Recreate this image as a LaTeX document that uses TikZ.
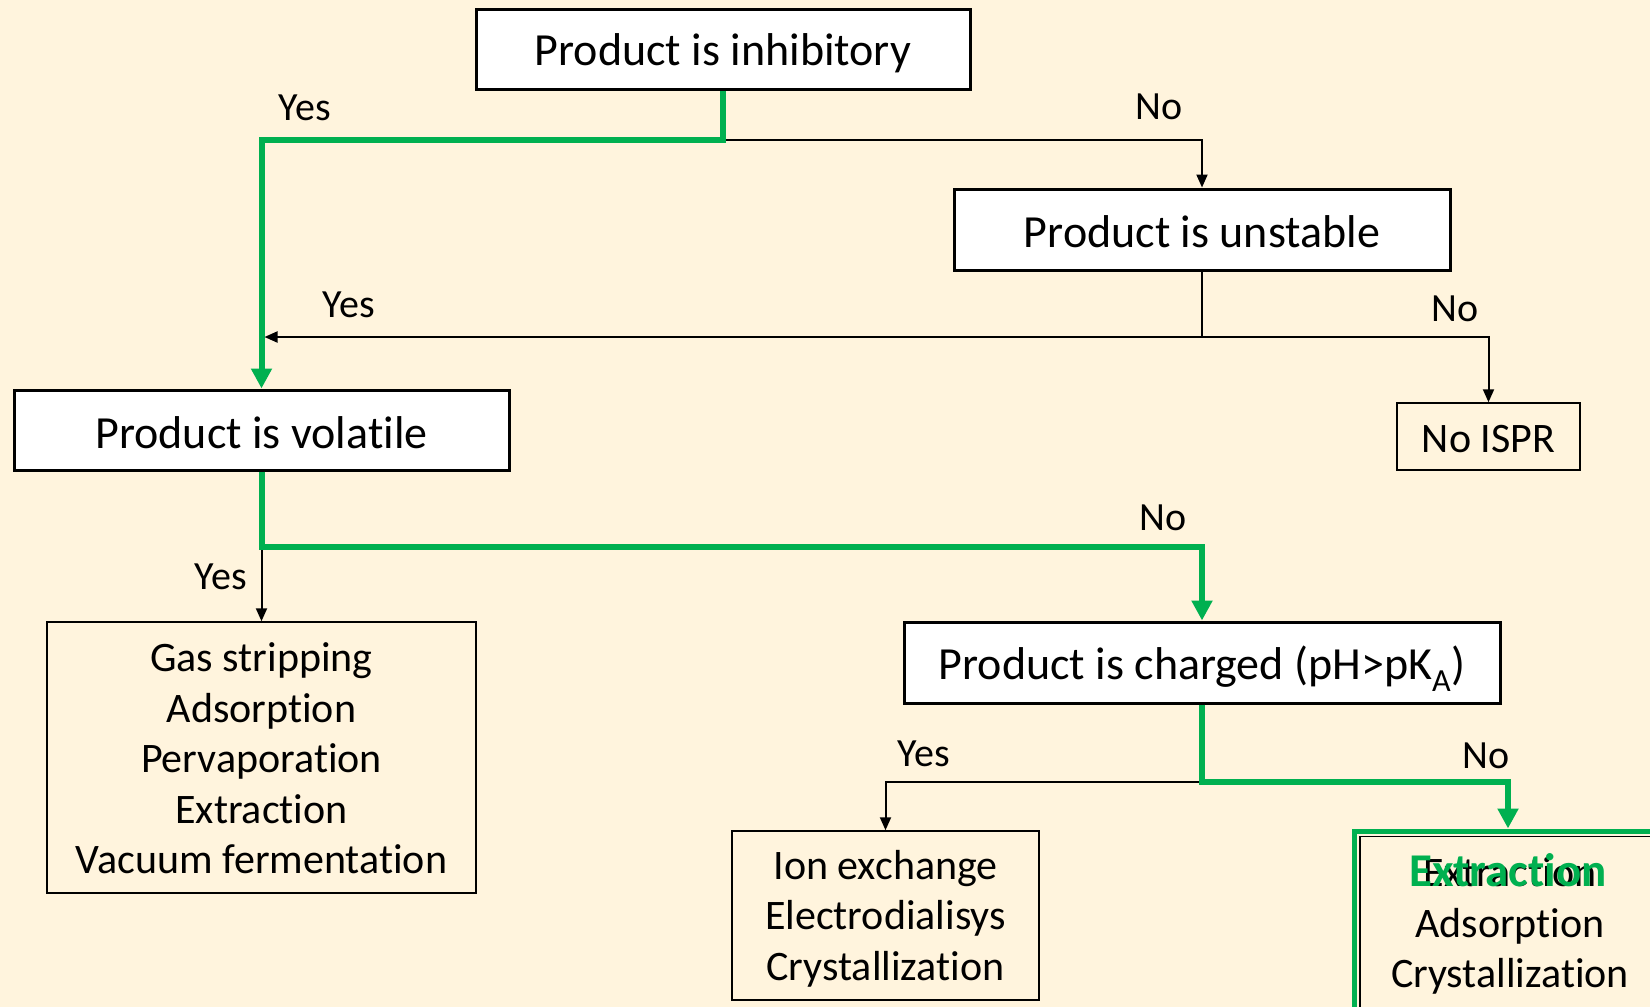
\documentclass[tikz,border=0pt]{standalone}
\usepackage{fontspec}
\setmainfont{Carlito}[Ligatures={NoCommon}]
\usetikzlibrary{arrows.meta,calc}
\definecolor{bgc}{RGB}{255,244,221}
\definecolor{grn}{RGB}{0,176,80}
\newcommand{\lowr}[2]{\raisebox{-#1}[\height][\depth]{#2}}
\tikzset{
  hbox/.style={draw=black,line width=3pt,fill=white,inner sep=0pt,font=\fontsize{46}{55}\selectfont},
  tbox/.style={draw=black,line width=1.5pt,inner sep=0pt,align=center,font=\fontsize{42}{50.5}\selectfont},
  lab/.style={inner sep=0pt,font=\fontsize{40}{48}\selectfont},
  bline/.style={draw=black,line width=2pt,-{Triangle[length=13pt,width=11pt]}},
  bplain/.style={draw=black,line width=2pt},
  gline/.style={draw=grn,line width=6pt,-{Triangle[length=20pt,width=20pt]}},
  gplain/.style={draw=grn,line width=6pt}
}
\begin{document}
\begin{tikzpicture}[x=1pt,y=-1pt]
\useasboundingbox (0,0) rectangle (1650,1007);
\clip (0,0) rectangle (1650,1007);
\fill[bgc] (0,0) rectangle (1650,1007);
% nodes
\node[hbox,minimum width=494pt,minimum height=80pt] (inh) at (723,49.5) {\lowr{4pt}{Product is inhibitory}};
\node[hbox,minimum width=496pt,minimum height=81pt] (uns) at (1202,229.5) {\lowr{2.5pt}{Product is unstable}};
\node[hbox,minimum width=495pt,minimum height=80pt] (vol) at (261.5,430) {\lowr{3pt}{Product is volatile}};
\node[tbox,minimum width=183pt,minimum height=67pt] (noi) at (1488.5,436.5) {\lowr{2.5pt}{No ISPR}};
\node[tbox,minimum width=429pt,minimum height=271pt] (gas) at (261.5,757.5) {\lowr{5pt}{\begin{tabular}{@{}c@{}}Gas stripping\\Adsorption\\Pervaporation\\Extraction\\Vacuum fermentation\end{tabular}}};
\node[hbox,minimum width=596pt,minimum height=81pt] (chg) at (1202,662.5) {\lowr{6pt}{Product is charged (pH>pK\textsubscript{A})}};
\node[tbox,minimum width=307pt,minimum height=169pt] (ion) at (885.5,915.5) {\lowr{4pt}{\begin{tabular}{@{}c@{}}Ion exchange\\Electrodialisys\\Crystallization\end{tabular}}};
\node[tbox,minimum width=300pt,minimum height=175pt] (ext0) at (1510,924) {\lowr{3pt}{\begin{tabular}{@{}c@{}}Extraction\\Adsorption\\Crystallization\end{tabular}}};
\node[draw=grn,line width=5pt,minimum width=308pt,minimum height=184pt,inner sep=0pt] (ext) at (1508,923) {};
\node[inner sep=0pt,anchor=base,text=grn,font=\fontsize{47}{55}\selectfont\bfseries] (extg) at (1508,886) {Extraction};
% junction coordinates
\coordinate (y1) at (0,140);
\coordinate (y2) at (0,337);
\coordinate (y3) at (0,547);
\coordinate (y4) at (0,782);
% black connectors
\draw[bline] (inh.south |- y1) -| (uns.north);
\draw[bplain] (uns.south) -- (uns.south |- y2);
\draw[bline] (uns.south |- y2) -- ([xshift=3pt]vol.north |- y2);
\draw[bline] (uns.south |- y2) -| (noi.north);
\draw[bline] (vol.south |- y3) -- (gas.north);
\draw[bline] (chg.south |- y4) -| (ion.north);
% green connectors
\draw[gline] (inh.south) |- (vol.north |- y1) -- (vol.north);
\draw[gline] (vol.south) |- (chg.north |- y3) -- (chg.north);
\draw[gline] (chg.south) |- (ext.north |- y4) -- (ext.north);
% labels
\node[lab] (l1) at (305,108) {Yes};
\node[lab] (l2) at (1159,107) {No};
\node[lab] (l3) at (349,305) {Yes};
\node[lab] (l4) at (1455,309) {No};
\node[lab] (l5) at (221,577) {Yes};
\node[lab] (l6) at (1163,518) {No};
\node[lab] (l7) at (924,754) {Yes};
\node[lab] (l8) at (1486,756) {No};
\end{tikzpicture}
\end{document}
